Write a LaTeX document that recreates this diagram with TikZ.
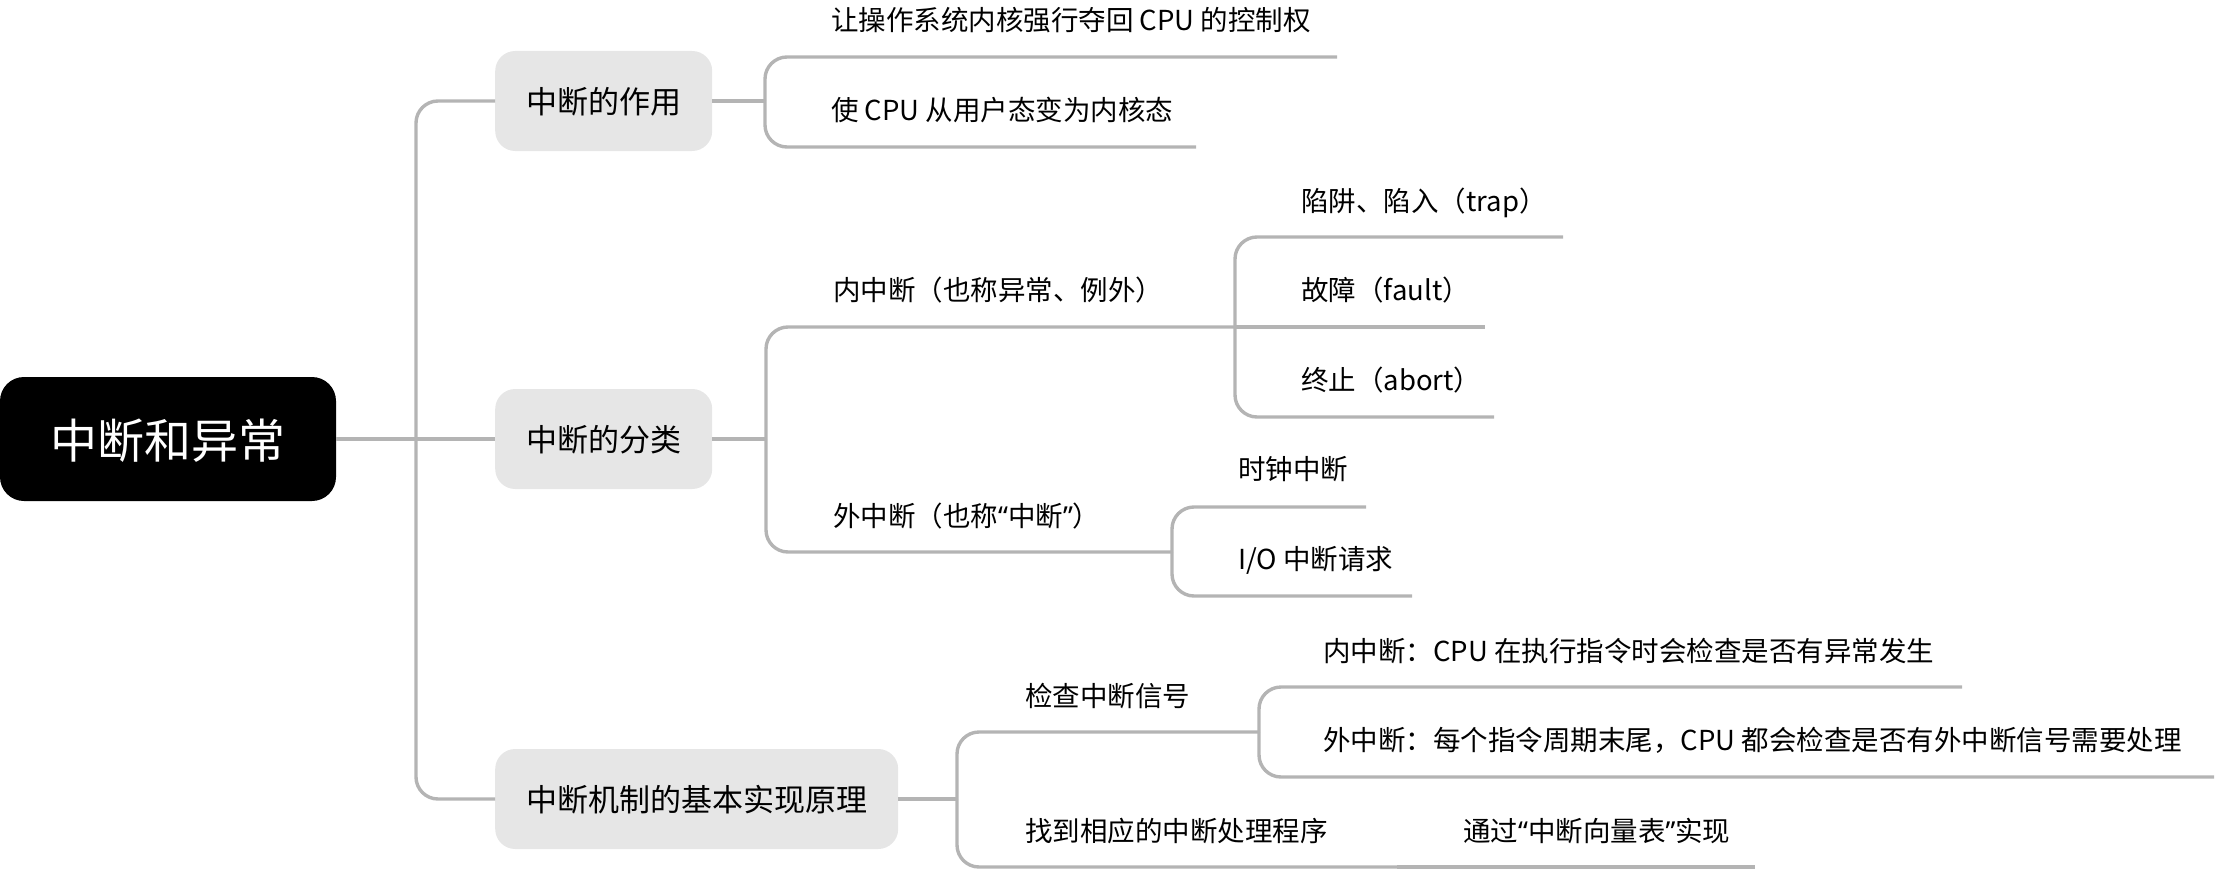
\documentclass[tikz,border=0pt]{standalone}
\usepackage{fontspec}
\setmainfont{Noto Sans CJK SC}
\newfontfamily\qfont{Noto Sans}
\newcommand{\myLq}{{\qfont “}}
\newcommand{\myRq}{{\qfont ”}}
\definecolor{linegray}{HTML}{B4B4B4}
\definecolor{boxgray}{HTML}{E6E6E6}
\begin{document}
\begin{tikzpicture}[x=1pt,y=-1pt,
  conn/.style={draw=linegray, line width=3.4pt, rounded corners=22pt},
  rootbox/.style={fill=black, text=white, rounded corners=24pt, minimum width=336pt, minimum height=124pt, inner sep=0pt, font=\fontsize{47}{56}\selectfont, text height=38.6pt, text depth=0pt},
  topic/.style={fill=boxgray, rounded corners=20pt, minimum height=100pt, inner xsep=31pt, inner ysep=0pt, anchor=west, font=\fontsize{31}{37}\selectfont, text height=25.4pt, text depth=0pt},
  leaf/.style={anchor=west, inner sep=0pt, font=\fontsize{27.5}{33}\selectfont, text height=22.4pt, text depth=0pt}]
\useasboundingbox (0,0) rectangle (2221,872);

% root and main topics
\node[rootbox] (root) at (168,439) {中断和异常};
\node[topic] (k1) at (495,101) {中断的作用};
\node[topic] (k2) at (495,439) {中断的分类};
\node[topic] (k3) at (495,799) {中断机制的基本实现原理};

\coordinate (t) at (416,439);
\draw[conn] (root.east) -- (k2.west);
\draw[conn] (t) |- (k1.west);
\draw[conn] (t) |- (k3.west);

% branch 1
\node[leaf] (c11) at (831,19) {让操作系统内核强行夺回 CPU 的控制权};
\node[leaf] (c12) at (831,109) {使 CPU 从用户态变为内核态};
\coordinate (j1) at (765,101);
\coordinate (u11) at (1337,57);
\coordinate (u12) at (1196,147);
\draw[conn] (k1.east) -- (j1);
\draw[conn] (j1) |- (u11);
\draw[conn] (j1) |- (u12);

% branch 2
\node[leaf] (c21) at (833,289) {内中断（也称异常、例外）};
\node[leaf] (c22) at (833,515) {外中断（也称\myLq 中断\myRq）};
\coordinate (j2) at (766,439);
\coordinate (j21) at (1235,327);
\coordinate (j22) at (1172,552);
\draw[conn] (k2.east) -- (j2);
\draw[conn] (j2) |- (j21);
\draw[conn] (j2) |- (j22);

\node[leaf] (c211) at (1301,200) {陷阱、陷入（trap）};
\node[leaf] (c212) at (1301,289) {故障（fault）};
\node[leaf] (c213) at (1301,379) {终止（abort）};
\coordinate (u211) at (1563,237);
\coordinate (u212) at (1485,327);
\coordinate (u213) at (1494,417);
\draw[conn] (j21) |- (u211);
\draw[conn] (j21) -- (u212);
\draw[conn] (j21) |- (u213);

\node[leaf] (c221) at (1238,468) {时钟中断};
\node[leaf] (c222) at (1238,558) {I/O 中断请求};
\coordinate (u221) at (1366,507);
\coordinate (u222) at (1412,596);
\draw[conn] (j22) |- (u221);
\draw[conn] (j22) |- (u222);

% branch 3
\node[leaf] (c31) at (1025,695) {检查中断信号};
\node[leaf] (c32) at (1025,830) {找到相应的中断处理程序};
\coordinate (j3) at (957,799);
\coordinate (j31) at (1259,732);
\coordinate (j32) at (1397,867);
\draw[conn] (k3.east) -- (j3);
\draw[conn] (j3) |- (j31);
\draw[conn] (j3) |- (j32);

\node[leaf] (c311) at (1323,650) {内中断：CPU 在执行指令时会检查是否有异常发生};
\node[leaf] (c312) at (1323,739) {外中断：每个指令周期末尾，CPU 都会检查是否有外中断信号需要处理};
\coordinate (u311) at (1962,687);
\coordinate (u312) at (2214,777);
\draw[conn] (j31) |- (u311);
\draw[conn] (j31) |- (u312);

\node[leaf] (c321) at (1463,830) {通过\myLq 中断向量表\myRq 实现};
\coordinate (u321) at (1755,867);
\draw[conn] (j32) -- (u321);
\end{tikzpicture}
\end{document}
